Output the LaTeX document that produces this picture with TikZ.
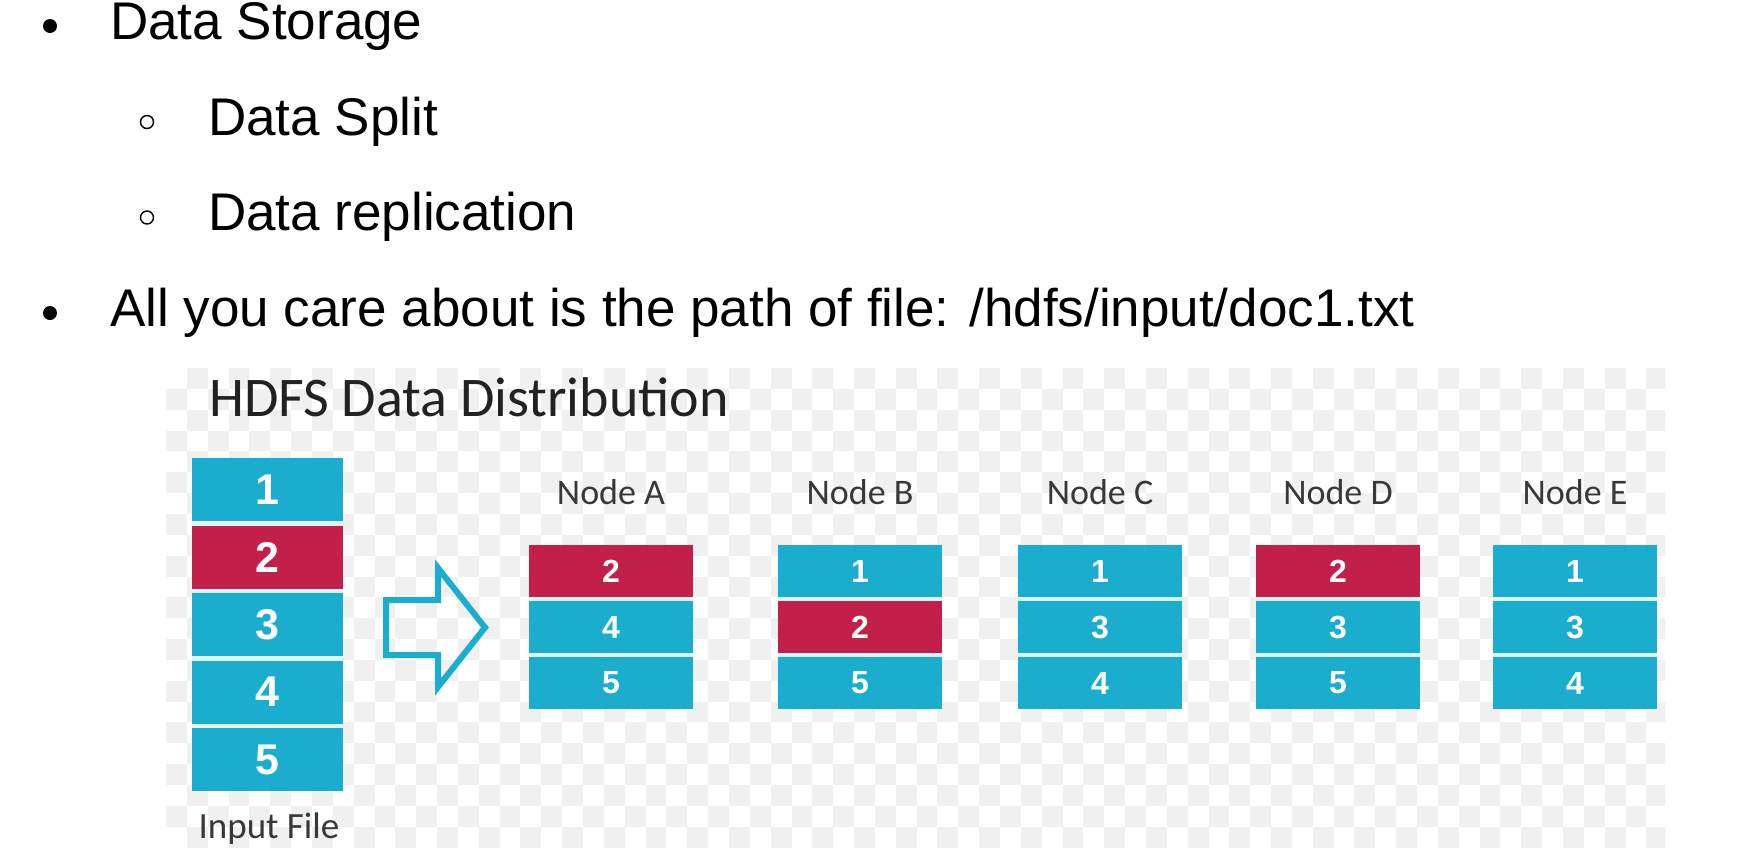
\documentclass[tikz,border=0pt]{standalone}
\usepackage{fontspec}
\setmainfont{Liberation Sans}
\newfontfamily\calib{Carlito}
\definecolor{hdcyan}{HTML}{1BADCD}
\definecolor{hdred}{HTML}{C2204B}
\definecolor{checkgray}{HTML}{F0F0F0}
\definecolor{gapcyan}{HTML}{DDF4F8}
\definecolor{labelgray}{HTML}{383838}
\definecolor{titlegray}{HTML}{222222}
\tikzset{
  bullettext/.style={anchor=base west, inner sep=0pt, font=\fontsize{53}{60}\selectfont},
  filecell/.style={minimum width=151pt, minimum height=63pt, inner sep=0pt, text=white,
    font=\fontsize{43}{43}\bfseries\selectfont},
  blockcell/.style={minimum width=164pt, minimum height=52pt, inner sep=0pt, text=white,
    font=\fontsize{32}{32}\bfseries\selectfont},
  nodelabel/.style={anchor=base, inner sep=0pt, text=labelgray, font=\calib\fontsize{36}{36}\selectfont},
  blue/.style={fill=hdcyan},
  red/.style={fill=hdred},
}
\begin{document}
\begin{tikzpicture}[x=1pt, y=-1pt]
\useasboundingbox (0,0) rectangle (1764,852);
\fill[white] (0,0) rectangle (1764,852);

% bullet list
\fill (50,26) circle (7);
\node[bullettext] (t1) at (110,39) {Data Storage};
\draw[line width=1.4pt] (147,122) circle (6.5);
\node[bullettext] (t2) at (208,135) {Data Split};
\draw[line width=1.4pt] (147,217.5) circle (6.5);
\node[bullettext] (t3) at (208,230.5) {Data replication};
\fill (50,313) circle (7);
\node[bullettext] (t4) at (110,326) {All you care about is the path of file: /hdfs/input/doc1.txt};

% checkered backdrop of the figure
\begin{scope}
  \clip (166,368) rectangle (1665,847);
  \fill[white] (166,368) rectangle (1665,847);
  \foreach \i in {0,...,72} {
    \foreach \j in {0,...,23} {
      \pgfmathparse{int(mod(\i+\j,2))}
      \ifnum\pgfmathresult=1
        \fill[checkgray] ({166+\i*20.85},{368+\j*20.85}) rectangle ++(20.85,20.85);
      \fi
    }
  }
\end{scope}

% title
\node[anchor=base west, inner sep=0pt, text=titlegray, font=\calib\fontsize{56}{56}\selectfont] (title) at (209,416) {HDFS Data Distribution};

% input file column
\fill[gapcyan] (192,458) rectangle (343,791);
\node[filecell, blue] (f1) at (267.5,489.5) {1};
\node[filecell, red]  (f2) at (267.5,557) {2};
\node[filecell, blue] (f3) at (267.5,624.5) {3};
\node[filecell, blue] (f4) at (267.5,692) {4};
\node[filecell, blue] (f5) at (267.5,759.5) {5};
\node[nodelabel, font=\calib\fontsize{37}{37}\selectfont] (inlabel) at (269,838) {Input File};

% hollow block arrow
\draw[hdcyan, line width=6pt, line join=miter]
  (386,600) -- (438,600) -- (438,568) -- (485,627.5) -- (438,687) -- (438,655) -- (386,655) -- cycle;

% data nodes
\foreach \nm/\cx/\lab/\ca/\cb/\cc/\va/\vb/\vc in {
    a/611/A/red/blue/blue/2/4/5,
    b/860/B/blue/red/blue/1/2/5,
    c/1100/C/blue/blue/blue/1/3/4,
    d/1338/D/red/blue/blue/2/3/5,
    e/1575/E/blue/blue/blue/1/3/4} {
  \node[nodelabel] (lab\nm) at (\cx,504) {Node \lab};
  \fill[gapcyan] (\cx-82,545) rectangle (\cx+82,709);
  \node[blockcell, \ca] (\nm1) at (\cx,571) {\va};
  \node[blockcell, \cb] (\nm2) at (\cx,627) {\vb};
  \node[blockcell, \cc] (\nm3) at (\cx,683) {\vc};
}
\end{tikzpicture}
\end{document}
